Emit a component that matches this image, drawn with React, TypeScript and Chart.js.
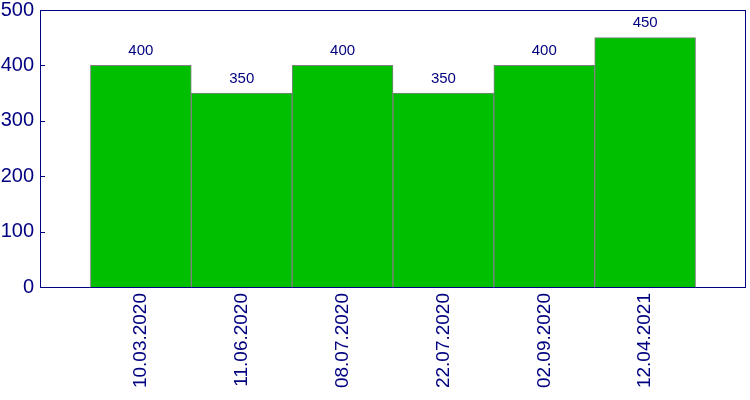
import React, { useEffect, useRef } from "react";
import { Chart, registerables } from "chart.js";

Chart.register(...registerables);

const categories = ["10.03.2020", "11.06.2020", "08.07.2020", "22.07.2020", "02.09.2020", "12.04.2021"];
const values = [400, 350, 400, 350, 400, 450];
const yTicks = [0, 100, 200, 300, 400, 500];

const NAVY = "#000080";
const FONT = "'Liberation Sans', Arial, sans-serif";

const framePlugin = {
  id: "frame",
  afterDraw(chart: any) {
    const { ctx, chartArea } = chart;
    const yScale = chart.scales.y;
    ctx.save();
    ctx.strokeStyle = NAVY;
    ctx.lineWidth = 1;
    ctx.strokeRect(
      Math.round(chartArea.left) + 0.5,
      Math.round(chartArea.top) + 0.5,
      Math.round(chartArea.right - chartArea.left) - 1,
      Math.round(chartArea.bottom - chartArea.top)
    );
    for (const t of yTicks) {
      const y = Math.round(yScale.getPixelForValue(t)) + 0.5;
      ctx.beginPath();
      ctx.moveTo(chartArea.left, y);
      ctx.lineTo(chartArea.left + 5, y);
      ctx.stroke();
    }
    ctx.restore();
  },
  afterDatasetsDraw(chart: any) {
    const { ctx } = chart;
    const meta = chart.getDatasetMeta(0);
    ctx.save();
    ctx.fillStyle = NAVY;
    ctx.font = `15px ${FONT}`;
    ctx.textAlign = "center";
    ctx.textBaseline = "bottom";
    meta.data.forEach((bar: any, i: number) => {
      ctx.fillText(String(values[i]), bar.x, bar.y - 7);
    });
    ctx.restore();
  },
};

export default function App() {
  const ref = useRef<HTMLCanvasElement>(null);
  useEffect(() => {
    if (!ref.current) return;
    const chart = new Chart(ref.current, {
      type: "bar",
      data: {
        datasets: [
          {
            data: categories.map((_, i) => ({ x: i, y: values[i] })),
            backgroundColor: "#00BF00",
            borderColor: "#808080",
            borderWidth: 1,
            barPercentage: 1,
            categoryPercentage: 1,
          },
        ],
      },
      options: {
        animation: false,
        responsive: false,
        maintainAspectRatio: false,
        layout: { padding: { top: 10, right: 4, left: 0, bottom: 0 } },
        plugins: { legend: { display: false }, tooltip: { enabled: false } },
        scales: {
          x: {
            type: "linear",
            min: -1,
            max: 6,
            offset: false,
            grid: { display: false, drawTicks: false },
            border: { display: false },
            ticks: {
              stepSize: 1,
              autoSkip: false,
              minRotation: 90,
              maxRotation: 90,
              padding: 6,
              color: NAVY,
              font: { family: FONT, size: 19 },
              callback: (v: any) => (Number.isInteger(v) && categories[v] ? categories[v] : ""),
            },
            afterFit: (s: any) => {
              s.height = 113;
              s.paddingLeft = 0;
              s.paddingRight = 0;
            },
          },
          y: {
            min: 0,
            max: 500,
            grid: { display: false, drawTicks: false },
            border: { display: false },
            ticks: {
              stepSize: 100,
              padding: 6,
              color: NAVY,
              font: { family: FONT, size: 20 },
            },
            afterFit: (s: any) => {
              s.width = 40;
              s.paddingTop = 0;
              s.paddingBottom = 0;
            },
          },
        },
      },
      plugins: [framePlugin],
    });
    return () => chart.destroy();
  }, []);
  return (
    <div style={{ position: "fixed", left: 0, top: 0, width: 750, height: 400, background: "#fff" }}>
      <canvas ref={ref} width={750} height={400} style={{ width: 750, height: 400 }} />
    </div>
  );
}
